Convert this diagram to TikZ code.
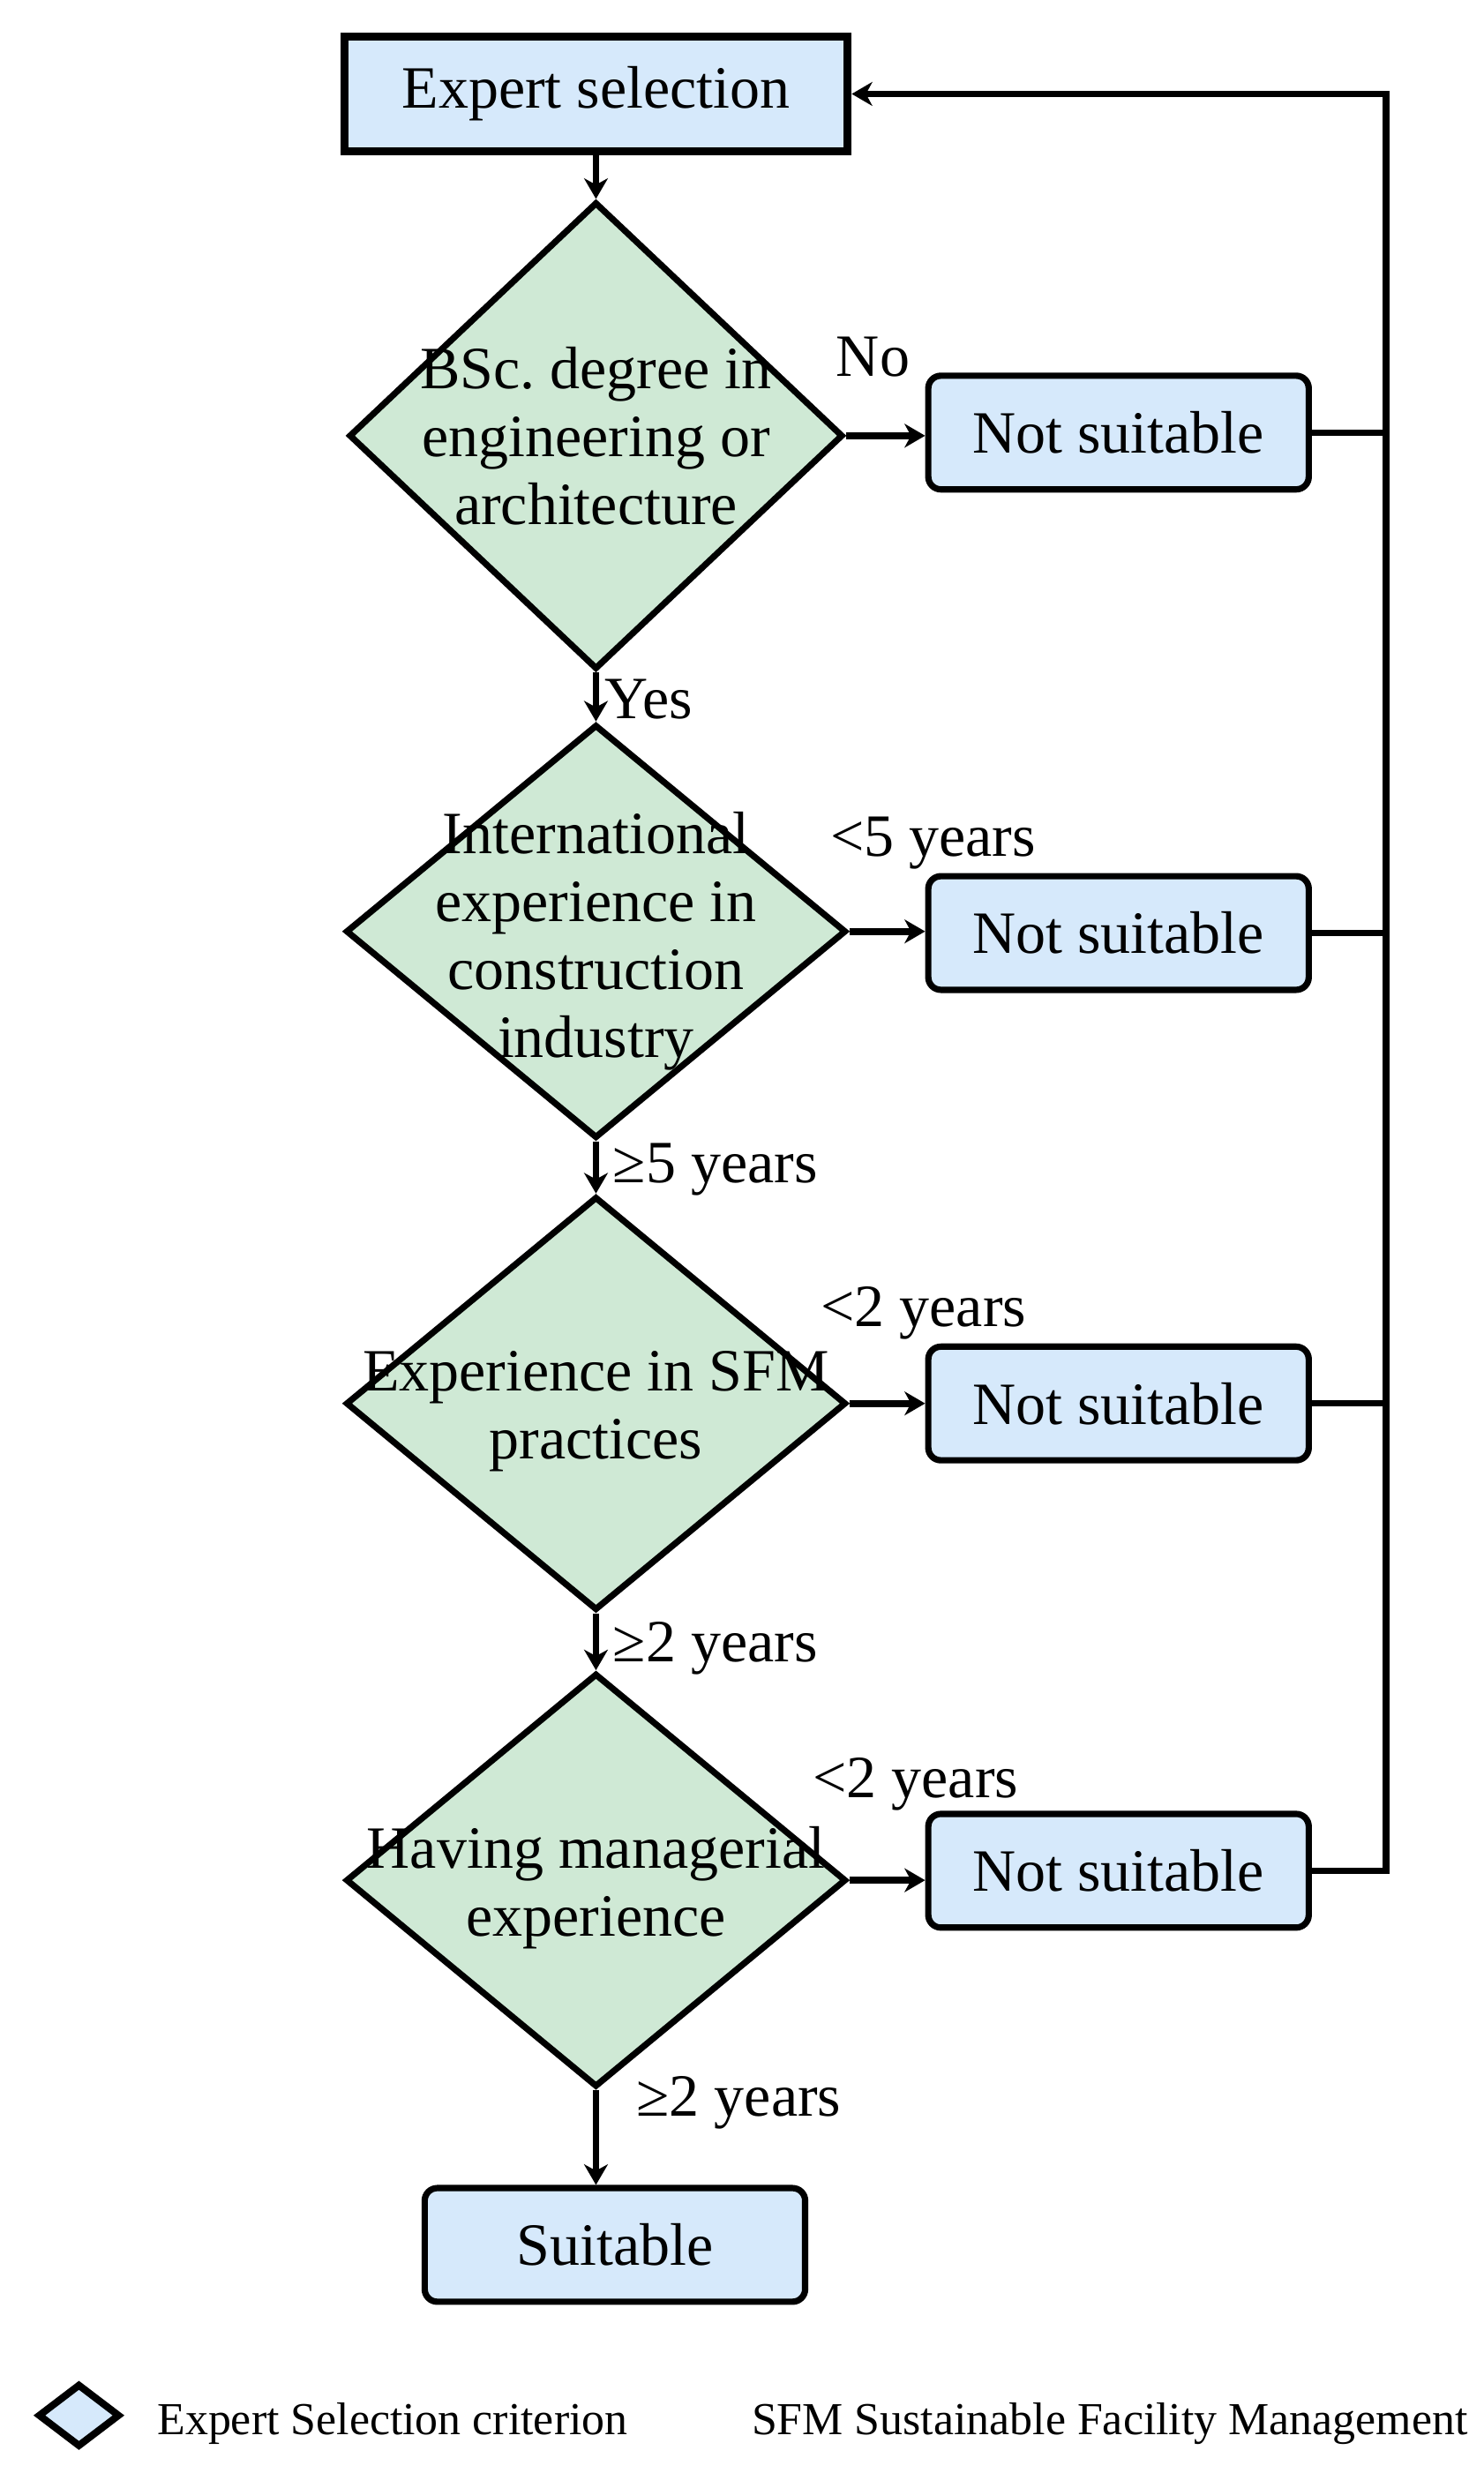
\documentclass[tikz,border=0pt]{standalone}
\usepackage{fontspec}
\setmainfont{Liberation Serif}
\usetikzlibrary{shapes.geometric,arrows.meta}
\definecolor{boxblue}{HTML}{D6E9FB}
\definecolor{critgreen}{HTML}{CFE9D5}
\frenchspacing
\tikzset{
  x=1pt,y=-1pt,
  mainfont/.style={font=\fontsize{38}{43}\selectfont},
  bluebox/.style={draw=black,line width=4pt,fill=boxblue,rounded corners=8pt,minimum width=241pt,minimum height=72pt,inner sep=0pt,mainfont},
  startbox/.style={draw=black,line width=5pt,fill=boxblue,minimum width=319pt,minimum height=73pt,inner sep=0pt,mainfont},
  crit/.style={draw=black,line width=4pt,fill=critgreen,shape=diamond,inner sep=0pt,aspect=1.2},
  crittext/.style={align=center,mainfont,inner sep=0pt},
  lbl/.style={mainfont,inner sep=0pt},
  link/.style={draw=black,line width=3.4pt,-{Stealth[length=13pt,width=15pt,inset=4pt]}},
  flow/.style={draw=black,line width=4pt},
  legendtext/.style={font=\fontsize{29}{33}\selectfont,inner sep=0pt,anchor=base west},
}
\begin{document}
\begin{tikzpicture}
\useasboundingbox (0,0) rectangle (940,1566.5);
% main nodes
\node[startbox] (es) at (377.5,59.5) {Expert selection};
\node[crit,minimum width=313pt,minimum height=296pt] (d1) at (377.5,276) {};
\node[crittext] (d1t) at (377.5,276) {BSc. degree in\\engineering or\\architecture};
\node[crit,minimum width=317pt,minimum height=262pt] (d2) at (377.5,590) {};
\node[crittext] (d2t) at (377.5,596) {International\\experience in\\construction\\industry};
\node[crit,minimum width=317pt,minimum height=262pt] (d3) at (377.5,889) {};
\node[crittext] (d3t) at (377.5,894) {Experience in SFM\\practices};
\node[crit,minimum width=317pt,minimum height=262pt] (d4) at (377.5,1191) {};
\node[crittext] (d4t) at (377.5,1196) {Having managerial\\experience};
\node[bluebox] (n1) at (708.5,274) {Not suitable};
\node[bluebox] (n2) at (708.5,591) {Not suitable};
\node[bluebox] (n3) at (708.5,889) {Not suitable};
\node[bluebox] (n4) at (708.5,1185) {Not suitable};
\node[bluebox] (ok) at (389.5,1422) {Suitable};
% labels
\node[lbl] (lno) at (553,226) {No};
\node[lbl] (lyes) at (411,443) {Yes};
\node[lbl] (l5a) at (591,534) {<5 years};
\node[lbl] (l5b) at (453,741) {≥5 years};
\node[lbl] (l2a) at (585,832) {<2 years};
\node[lbl] (l2b) at (453,1044) {≥2 years};
\node[lbl] (l2c) at (580,1130) {<2 years};
\node[lbl] (l2d) at (468,1332) {≥2 years};
% vertical flow
\draw[link] (es.south) -- (d1.north);
\draw[link] (d1.south) -- (d2.north);
\draw[link] (d2.south) -- (d3.north);
\draw[link] (d3.south) -- (d4.north);
\draw[link,line width=4.2pt] (d4.south) -- (d4.south |- ok.north);
% no branches
\draw[link,line width=4.5pt] (d1.east) -- (d1.east -| n1.west);
\draw[link,line width=4.5pt] (d2.east) -- (d2.east -| n2.west);
\draw[link,line width=4.5pt] (d3.east) -- (d3.east -| n3.west);
\draw[link,line width=4.5pt] (d4.east) -- (d4.east -| n4.west);
% feedback
\coordinate (rt) at (878,59.5);
\draw[flow] (n1.east) -- (n1.east -| rt);
\draw[flow] (n2.east) -- (n2.east -| rt);
\draw[flow] (n3.east) -- (n3.east -| rt);
\draw[link,line width=4pt] (n4.east) -| (rt) -- (es.east);
% legend
\node[draw=black,line width=4.5pt,fill=boxblue,shape=diamond,inner sep=0pt,minimum width=52pt,minimum height=40pt] (lgd) at (50,1530) {};
\node[legendtext] (lg1) at (99.5,1542) {Expert Selection criterion};
\node[legendtext] (lg2) at (476,1542) {SFM Sustainable Facility Management};
\end{tikzpicture}
\end{document}
